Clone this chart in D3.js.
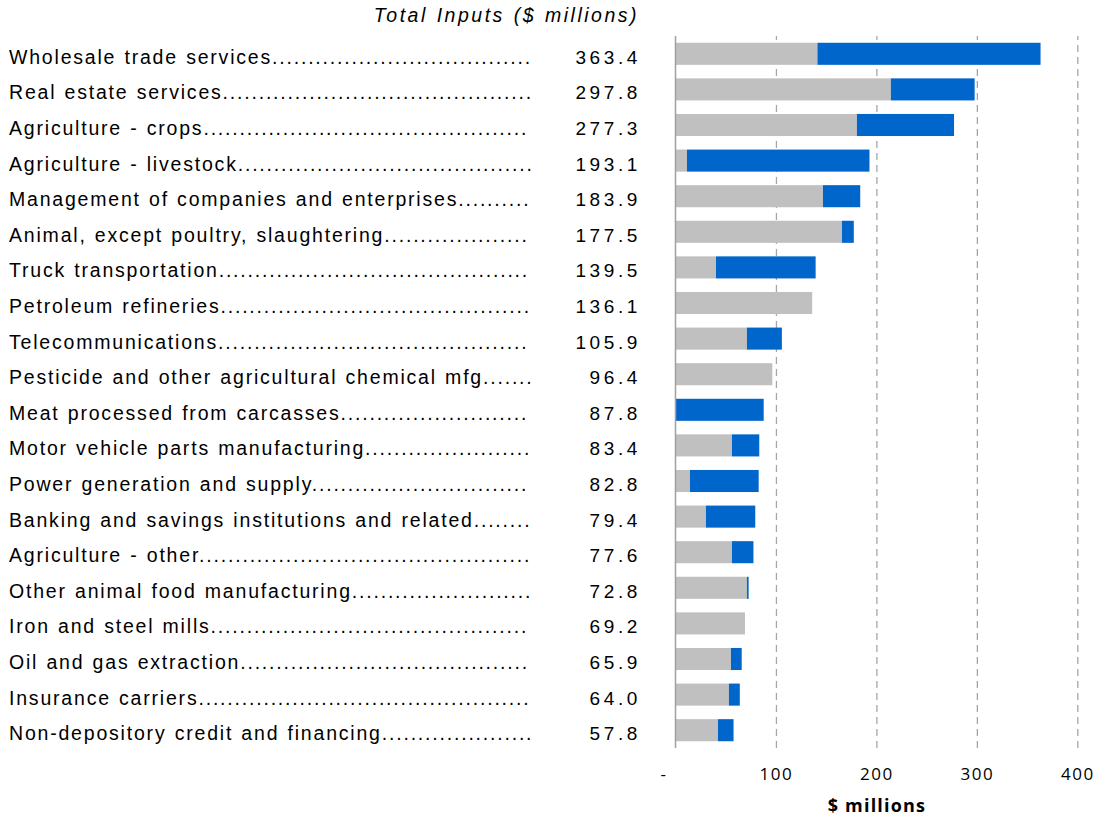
<!DOCTYPE html>
<html>
<head>
<meta charset="utf-8">
<script src="https://cdn.jsdelivr.net/npm/d3@7"></script>
<style>
  html, body { margin: 0; padding: 0; background: #fff; }
  svg { display: block; }
  .lbl { font-family: "Liberation Sans", Arial, sans-serif; font-size: 19.5px; letter-spacing: 1.8px; word-spacing: 1px; fill: #000; }
  .val { font-family: "Liberation Sans", Arial, sans-serif; font-size: 19px; letter-spacing: 3.6px; fill: #000; }
  .title { font-family: "Liberation Sans", Arial, sans-serif; font-size: 19.5px; font-style: italic; letter-spacing: 2.5px; word-spacing: 1px; fill: #000; }
  .tick text { font-family: "Open Sans", sans-serif; font-size: 17px; letter-spacing: 1.5px; fill: #000; }
  .xtitle { font-family: "Open Sans", sans-serif; font-size: 18px; font-weight: bold; letter-spacing: 1.2px; fill: #000; }
</style>
</head>
<body>
<svg id="chart" width="1099" height="817"></svg>
<script>
// Industries ranked by total inputs
const categories = [
  "Wholesale trade services",
  "Real estate services",
  "Agriculture - crops",
  "Agriculture - livestock",
  "Management of companies and enterprises",
  "Animal, except poultry, slaughtering",
  "Truck transportation",
  "Petroleum refineries",
  "Telecommunications",
  "Pesticide and other agricultural chemical mfg",
  "Meat processed from carcasses",
  "Motor vehicle parts manufacturing",
  "Power generation and supply",
  "Banking and savings institutions and related",
  "Agriculture - other",
  "Other animal food manufacturing",
  "Iron and steel mills",
  "Oil and gas extraction",
  "Insurance carriers",
  "Non-depository credit and financing"
];

// Total inputs, $ millions
const totals = [363.4, 297.8, 277.3, 193.1, 183.9, 177.5, 139.5, 136.1, 105.9, 96.4,
                87.8, 83.4, 82.8, 79.4, 77.6, 72.8, 69.2, 65.9, 64.0, 57.8];

// First (gray) segment of each bar
const graySegment = [141.3, 214.4, 180.6, 11.4, 146.8, 165.7, 40.3, 136.1, 71.1, 96.4,
                     0, 56.2, 14.4, 30.3, 56.2, 71.1, 69.2, 55.2, 53.2, 42.3];

// Second (blue) segment of each bar
const blueSegment = [222.1, 83.4, 96.7, 181.7, 37.1, 11.8, 99.2, 0, 34.8, 0,
                     87.8, 27.2, 68.4, 49.1, 21.4, 1.7, 0, 10.7, 10.8, 15.5];

const tickValues = [0, 100, 200, 300, 400];
const tickLabels = ["-", "100", "200", "300", "400"];

const svg = d3.select("#chart");

const plotTop = 36, plotBottom = 748;
const x = d3.scaleLinear().domain([0, 400]).range([675.5, 1077.3]);
const y = d3.scaleBand().domain(categories).range([plotTop, plotBottom])
  .paddingInner(0.38).paddingOuter(0.19);

// dashed vertical gridlines
const grid = svg.append("g")
  .attr("transform", `translate(0,${plotBottom})`)
  .call(d3.axisBottom(x).tickValues(tickValues.slice(1)).tickSize(-(plotBottom - plotTop)).tickFormat(""));
grid.select(".domain").remove();
grid.selectAll(".tick line")
  .attr("stroke", "#a6a6a6").attr("stroke-width", 1.3).attr("stroke-dasharray", "7,5");

// stacked bars
const rows = categories.map((c, i) => ({ name: c, gray: graySegment[i], blue: blueSegment[i], total: totals[i] }));
const stack = d3.stack().keys(["gray", "blue"])(rows);
const colors = { gray: "#c0c0c0", blue: "#0066cc" };

svg.append("g").selectAll("g")
  .data(stack)
  .join("g")
  .attr("fill", d => colors[d.key])
  .selectAll("rect")
  .data(d => d)
  .join("rect")
  .attr("x", d => x(d[0]))
  .attr("y", d => y(d.data.name))
  .attr("width", d => Math.max(0, x(d[1]) - x(d[0])))
  .attr("height", y.bandwidth());

// vertical axis line at zero
svg.append("line")
  .attr("x1", x(0)).attr("x2", x(0))
  .attr("y1", plotTop).attr("y2", plotBottom)
  .attr("stroke", "#a0a0a0").attr("stroke-width", 1.5);

// x axis labels
const xAxis = svg.append("g")
  .attr("transform", `translate(0,${plotBottom})`)
  .call(d3.axisBottom(x).tickValues(tickValues).tickSize(0).tickPadding(20)
    .tickFormat((d, i) => tickLabels[i]));
xAxis.select(".domain").remove();
xAxis.selectAll(".tick text").filter(d => d === 0).attr("dx", -12);

svg.append("text").attr("class", "xtitle")
  .attr("x", 877).attr("y", 812).attr("text-anchor", "middle")
  .text("$ millions");

// column heading
svg.append("text").attr("class", "title")
  .attr("x", 639).attr("y", 22).attr("text-anchor", "end")
  .text("Total Inputs ($ millions)");

// row labels with dotted leaders
const labelX = 9, leaderEnd = 534;
svg.append("g").selectAll("text")
  .data(rows)
  .join("text")
  .attr("class", "lbl")
  .attr("x", labelX)
  .attr("y", d => y(d.name) + y.bandwidth() / 2 + 10)
  .each(function(d) {
    const t = d3.select(this);
    let s = d.name;
    t.text(s);
    while (true) {
      t.text(s + ".");
      if (this.getComputedTextLength() + labelX > leaderEnd) { t.text(s); break; }
      s += ".";
    }
  });

// total values
svg.append("g").selectAll("text")
  .data(rows)
  .join("text")
  .attr("class", "val")
  .attr("x", 641)
  .attr("y", d => y(d.name) + y.bandwidth() / 2 + 10)
  .attr("text-anchor", "end")
  .text(d => d.total.toFixed(1));
</script>
</body>
</html>
